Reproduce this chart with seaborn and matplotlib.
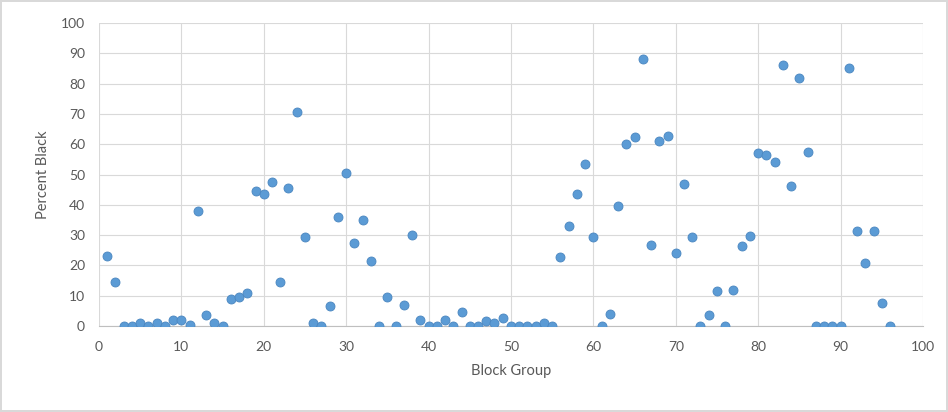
import matplotlib.pyplot as plt
import seaborn as sns
import pandas as pd

# Block group index and percent black values
block_group = list(range(1, 97))
percent_black = [
    23, 14.5, 0, 0, 1, 0, 1, 0, 2, 2,
    0.5, 38, 3.5, 1, 0, 9, 9.5, 11, 44.5, 43.5,
    47.5, 14.5, 45.5, 70.5, 29.5, 1, 0, 6.5, 36, 50.5,
    27.5, 35, 21.5, 0, 9.5, 0, 7, 30, 2, 0,
    0, 2, 0, 4.7, 0, 0, 1.5, 1, 2.5, 0,
    0, 0, 0, 1, 0, 22.7, 33, 43.5, 53.5, 29.5,
    0, 4, 39.5, 60, 62.5, 88, 26.7, 61, 62.7, 24,
    47, 29.5, 0, 3.7, 11.7, 0, 12, 26.5, 29.7, 57,
    56.3, 54, 86, 46.3, 81.8, 57.5, 0, 0, 0, 0,
    85, 31.3, 20.8, 31.3, 7.6, 0,
]

df = pd.DataFrame({"Block Group": block_group, "Percent Black": percent_black})

sns.set_style("white")
plt.rcParams["font.family"] = ["Lato", "DejaVu Sans"]

fig = plt.figure(figsize=(9.48, 4.12), dpi=100, edgecolor="#d9d9d9", linewidth=1.5)
ax = fig.add_axes([0.1044, 0.2087, 0.8692, 0.7355])

sns.scatterplot(data=df, x="Block Group", y="Percent Black", ax=ax,
                color="#5B9BD5", s=42, edgecolor="#4A86C0", linewidth=0.6, zorder=3)

ax.set_xlim(0, 100)
ax.set_ylim(0, 100)
ax.set_xticks(range(0, 101, 10))
ax.set_yticks(range(0, 101, 10))
ax.grid(True, color="#d9d9d9", linewidth=0.8)
ax.set_axisbelow(True)
for side in ["top", "right", "left"]:
    ax.spines[side].set_visible(False)
ax.spines["bottom"].set_color("#bfbfbf")
ax.tick_params(axis="y", length=4, color="#bfbfbf", labelsize=10, labelcolor="#595959", pad=6)
ax.tick_params(axis="x", length=0, labelsize=10, labelcolor="#595959", pad=11)

ax.set_xlabel("Block Group", fontsize=10.5, color="#595959", labelpad=8)
ax.set_ylabel("Percent Black", fontsize=10.5, color="#595959", labelpad=8)

fig.savefig("out.png", dpi=100, edgecolor=fig.get_edgecolor())
